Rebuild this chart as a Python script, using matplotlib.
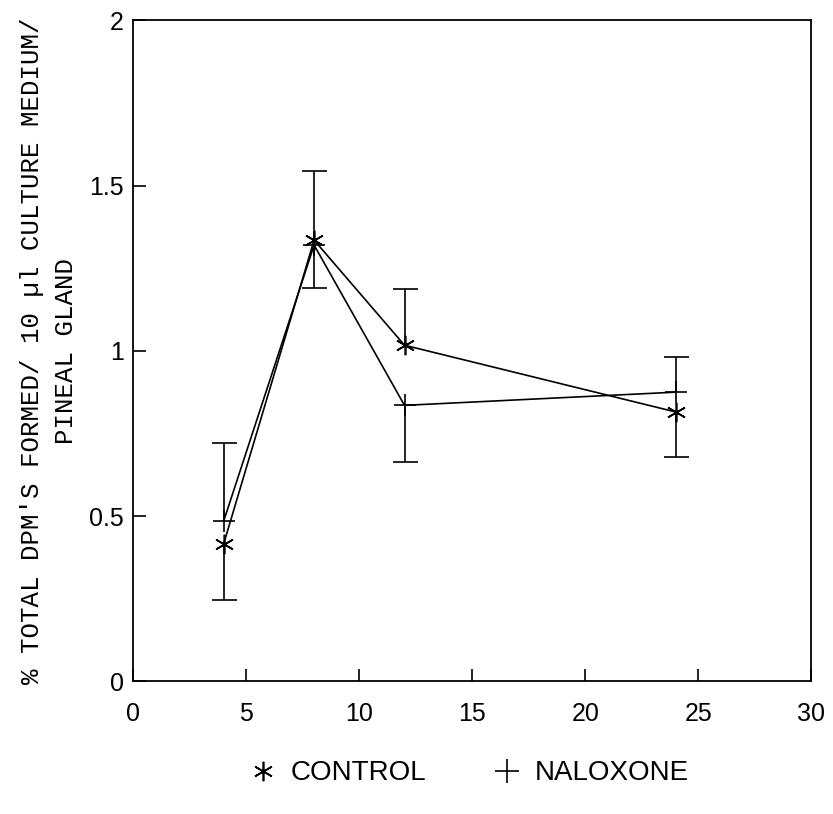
import numpy as np
import matplotlib.pyplot as plt
from matplotlib.lines import Line2D

# hours after treatment
hours = [4, 8, 12, 24]

control = [0.416, 1.335, 1.017, 0.815]
control_err_up = [0.0, 0.21, 0.17, 0.0]
control_err_dn = [0.17, 0.0, 0.0, 0.135]

naloxone = [0.485, 1.32, 0.835, 0.875]
naloxone_err_up = [0.235, 0.0, 0.0, 0.105]
naloxone_err_dn = [0.0, 0.13, 0.17, 0.0]

xticks = [0, 5, 10, 15, 20, 25, 30]
yticks = [0, 0.5, 1, 1.5, 2]
ytick_labels = ["0", "0.5", "1", "1.5", "2"]

plt.rcParams['font.family'] = ['Liberation Sans', 'DejaVu Sans']

fig = plt.figure(figsize=(8.33, 8.14), dpi=100)
ax = fig.add_axes([0.160, 0.163, 0.814, 0.812])

asterisk = (6, 2, 0)
LW = 1.2


def one_sided_bars(x, y, up, dn):
    # only the side that carries an error gets a bar and a cap
    x = np.asarray(x, float)
    y = np.asarray(y, float)
    up = np.asarray(up, float)
    dn = np.asarray(dn, float)
    ax.vlines(x, y - dn, y + up, color='black', lw=LW)
    for ends, err in ((y + up, up), (y - dn, dn)):
        m = err > 0
        ax.plot(x[m], ends[m], linestyle='none', marker='_',
                markersize=18, mew=LW, color='black')


ax.plot(hours, control, color='black', lw=LW, marker=asterisk,
        markersize=14, mew=LW)
ax.plot(hours, naloxone, color='black', lw=LW, marker='+',
        markersize=16, mew=LW)
one_sided_bars(hours, control, control_err_up, control_err_dn)
one_sided_bars(hours, naloxone, naloxone_err_up, naloxone_err_dn)

ax.set_xlim(0, 30)
ax.set_ylim(0, 2)
ax.set_xticks(xticks)
ax.set_yticks(yticks)
ax.set_yticklabels(ytick_labels)
ax.tick_params(direction='in', length=9, width=1.2, labelsize=18)
ax.tick_params(axis='x', pad=15)
ax.tick_params(axis='y', pad=7)
for s in ax.spines.values():
    s.set_linewidth(1.3)

ax.set_ylabel("% TOTAL DPM'S FORMED/ 10 \u00b5l CULTURE MEDIUM/\nPINEAL GLAND",
              family='Liberation Mono', fontsize=18.5, linespacing=1.5,
              labelpad=8)

handles = [
    Line2D([], [], color='black', marker=asterisk, linestyle='none',
           markersize=14, mew=1.2, label='CONTROL'),
    Line2D([], [], color='black', marker='+', linestyle='none',
           markersize=17, mew=1.2, label='NALOXONE'),
]
fig.legend(handles=handles, loc='center', bbox_to_anchor=(0.563, 0.05),
           ncol=2, frameon=False, fontsize=20, handlelength=1.0,
           handletextpad=0.5, columnspacing=2.4)

fig.savefig('out.png', dpi=100)
